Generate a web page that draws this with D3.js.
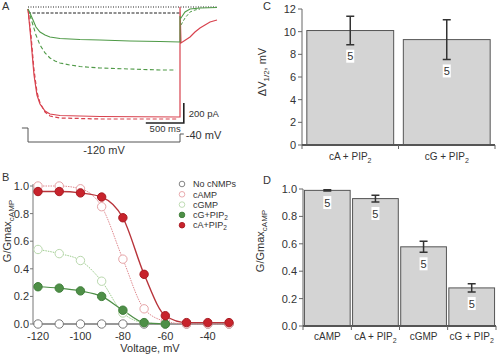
<!DOCTYPE html>
<html><head><meta charset="utf-8">
<script src="https://cdn.jsdelivr.net/npm/d3@7"></script>
<style>body{margin:0;background:#fff} svg{font-family:"Liberation Sans",Arial,sans-serif;display:block}</style>
</head><body><svg id="c" width="500" height="356"></svg>
<script>
// ---------- Panel A data (time ms, current pA) ----------
const redSolidT = [0,39,79,118,158,224,289,421,947,2000,2000,2000,2013,2132,2197,2263,2329,2395,2487];
const redSolidI = [-20,-330,-680,-880,-970,-1040,-1070,-1085,-1095,-1100,-1100,0,-360,-300,-250,-210,-180,-150,-130];
const redDashT = [0,39,79,118,158,224,289,421,947,1950];
const redDashI = [-20,-280,-630,-850,-960,-1050,-1090,-1110,-1120,-1120];
const greenSolidT = [0,26,66,105,158,224,289,421,684,947,1342,1737,2000,2000,2013,2066,2132,2263,2487];
const greenSolidI = [-20,-60,-130,-200,-250,-280,-300,-315,-325,-330,-340,-345,-350,-100,-110,-50,-20,-10,-5];
const greenDashT = [0,53,105,158,224,289,355,421,553,684,947,1342,1737,1947];
const greenDashI = [-20,-150,-280,-380,-460,-510,-540,-560,-580,-595,-610,-620,-630,-630];
const greenDashTailT = [2013,2066,2132,2197,2263];
const greenDashTailI = [-180,-110,-50,-30,-20];
const protoT = [-80,0,0,2000,2000,2050];
const protoV = [20,20,-120,-120,-40,-40];

// ---------- Panel B data ----------
const voltages = [-120,-110,-100,-90,-80,-70,-60,-50,-40,-30];
const noCNMPs = [0,0,0,0,0,0,0,0,0,0];
const cAMP = [1.0,1.0,0.98,0.85,0.47,0.11,0.02,0.0,0.0,0.0];
const cGMP = [0.54,0.51,0.46,0.31,0.08,0.01,0.0];
const cGPIP2 = [0.27,0.26,0.24,0.20,0.10,0.01,0.0];
const cAPIP2 = [0.96,0.96,0.95,0.92,0.77,0.36,0.06,0.01,0.01,0.01];
const xTicksB = [-120,-100,-80,-60,-40];
const yTicksB = [0,0.2,0.4,0.6,0.8,1.0];

// ---------- Panel C data ----------
const catsC = ["cA + PIP", "cG + PIP"];
const meanC = [10.1, 9.3];
const semC = [1.25, 1.75];
const nC = [5, 5];
const yTicksC = [0,2,4,6,8,10,12];

// ---------- Panel D data ----------
const catsD = ["cAMP", "cA + PIP", "cGMP", "cG + PIP"];
const subD = ["", "2", "", "2"];
const meanD = [0.99, 0.93, 0.578, 0.278];
const semD = [0.005, 0.025, 0.04, 0.03];
const nD = [5, 5, 5, 5];
const yTicksD = [0,0.2,0.4,0.6,0.8,1.0];

const svg = d3.select("#c");
svg.append("rect").attr("width",500).attr("height",356).attr("fill","#fff");
const TXT = "#333";

function panelLabel(t,x,y){ svg.append("text").attr("x",x).attr("y",y).attr("font-size",11).attr("fill",TXT).text(t); }

// ================= Panel A =================
panelLabel("A",2,10);
const xA = d3.scaleLinear().domain([0,2000]).range([28,180]);
const yA = d3.scaleLinear().domain([0,-1100]).range([7,117]);
const yV = d3.scaleLinear().domain([-40,-120]).range([134,142]);
const lineA = d3.line().x(d=>xA(d[0])).y(d=>yA(d[1])).curve(d3.curveLinear);
const zip = (a,b)=>a.map((v,i)=>[v,b[i]]);
const gA = svg.append("g");
gA.append("path").attr("d", lineA([[0,0],[2487,0]])).attr("stroke","#222").attr("stroke-width",1.2).attr("stroke-dasharray","1,1.5").attr("fill","none");
gA.append("path").attr("d", lineA([[0,-60],[2000,-60]])).attr("stroke","#222").attr("stroke-width",1.2).attr("stroke-dasharray","3,1.5").attr("fill","none");
const red="#d8424e", green="#4f9a47";
gA.append("path").attr("d", lineA(zip(greenDashT,greenDashI))).attr("stroke",green).attr("stroke-width",1.1).attr("stroke-dasharray","4,2.5").attr("fill","none");
gA.append("path").attr("d", lineA(zip(greenDashTailT,greenDashTailI))).attr("stroke",green).attr("stroke-width",1).attr("stroke-dasharray","3,2").attr("fill","none");
gA.append("path").attr("d", lineA(zip(redDashT,redDashI))).attr("stroke",red).attr("stroke-width",1.2).attr("stroke-dasharray","4,2.5").attr("fill","none");
gA.append("path").attr("d", lineA(zip(redSolidT,redSolidI))).attr("stroke",red).attr("stroke-width",1.2).attr("fill","none");
gA.append("path").attr("d", lineA(zip(greenSolidT,greenSolidI))).attr("stroke",green).attr("stroke-width",1.1).attr("fill","none");
gA.append("path").attr("d", lineA([[1550,-1160],[2050,-1160],[2050,-960]])).attr("stroke","#222").attr("stroke-width",1.6).attr("fill","none");
gA.append("text").attr("x",xA(2050)+5).attr("y",yA(-1060)+4).attr("font-size",9.5).attr("fill",TXT).text("200 pA");
gA.append("text").attr("x",xA(1600)).attr("y",yA(-1160)+9).attr("font-size",9.5).attr("fill",TXT).text("500 ms");
gA.append("path").attr("d", d3.line().x(d=>xA(d[0])).y(d=>yV(d[1]))(zip(protoT,protoV))).attr("stroke","#555").attr("stroke-width",1).attr("fill","none");
gA.append("text").attr("x",xA(2050)+2).attr("y",yV(-40)+5).attr("font-size",11).attr("fill",TXT).text("-40 mV");
gA.append("text").attr("x",xA(1000)).attr("y",154).attr("text-anchor","middle").attr("font-size",11).attr("fill",TXT).text("-120 mV");

// ================= Panel B =================
panelLabel("B",2,181);
const xB = d3.scaleLinear().domain([-120,-30]).range([38,229]);
const yB = d3.scaleLinear().domain([0,1]).range([324,186]);
const gB = svg.append("g");
gB.append("line").attr("x1",33).attr("x2",33).attr("y1",yB(0)).attr("y2",yB(1)-2).attr("stroke","#777");
gB.selectAll(".yt").data(yTicksB).join("line").attr("x1",30).attr("x2",33).attr("y1",d=>yB(d)).attr("y2",d=>yB(d)).attr("stroke","#777");
gB.selectAll(".ytl").data(yTicksB).join("text").attr("x",29).attr("y",d=>yB(d)+4).attr("text-anchor","end").attr("font-size",11).attr("fill",TXT).text(d=>d.toFixed(1));
gB.append("line").attr("x1",33).attr("x2",233).attr("y1",yB(0)).attr("y2",yB(0)).attr("stroke","#999").attr("stroke-width",2);
gB.selectAll(".xt").data(xTicksB).join("line").attr("x1",d=>xB(d)).attr("x2",d=>xB(d)).attr("y1",yB(0)).attr("y2",yB(0)+4).attr("stroke","#777");
gB.selectAll(".xtl").data(xTicksB).join("text").attr("x",d=>xB(d)).attr("y",yB(0)+16).attr("text-anchor","middle").attr("font-size",11).attr("fill",TXT).text(d=>d);
gB.append("text").attr("x",150).attr("y",352).attr("text-anchor","middle").attr("font-size",11).attr("fill",TXT).text("Voltage, mV");
const ylB = gB.append("text").attr("transform","translate(11,231) rotate(-90)").attr("text-anchor","middle").attr("font-size",11).attr("fill",TXT);
ylB.append("tspan").text("G/Gmax");
ylB.append("tspan").attr("font-size",8).attr("dy",3).text("cAMP");

const series = [
  {name:"No cNMPs", vals:noCNMPs, stroke:"#777", fill:"#fff", line:null},
  {name:"cAMP", vals:cAMP, stroke:"#e6a3a6", fill:"#fff", line:{c:"#e08a90",dash:"1.5,1",w:1}},
  {name:"cGMP", vals:cGMP, stroke:"#b9d8ad", fill:"#fff", line:{c:"#9ccc8c",dash:"1.5,1",w:1}},
  {name:"cG+PIP", sub:"2", vals:cGPIP2, stroke:"#3f7f3a", fill:"#4e8f47", line:{c:"#4e8f47",dash:null,w:1.2}},
  {name:"cA+PIP", sub:"2", vals:cAPIP2, stroke:"#a81b22", fill:"#c8232c", line:{c:"#b8343b",dash:null,w:1.4}}
];
const lineB = d3.line().x(d=>xB(d[0])).y(d=>yB(d[1])).curve(d3.curveMonotoneX);
series.forEach(s=>{
  if(!s.line) return;
  gB.append("path").attr("d", lineB(s.vals.map((v,i)=>[voltages[i],v]))).attr("fill","none").attr("stroke",s.line.c).attr("stroke-width",s.line.w).attr("stroke-dasharray",s.line.dash);
});
series.forEach(s=>{
  gB.selectAll(null).data(s.vals.map((v,i)=>[voltages[i],v])).join("circle")
    .attr("cx",d=>xB(d[0])).attr("cy",d=>yB(d[1])).attr("r",4.2)
    .attr("fill",s.fill).attr("stroke",s.stroke).attr("stroke-width",1);
});
series.forEach((s,i)=>{
  const y = 184 + i*10.3;
  gB.append("circle").attr("cx",182).attr("cy",y).attr("r",2.8).attr("fill",s.fill).attr("stroke",s.stroke).attr("stroke-width",0.9);
  const t = gB.append("text").attr("x",193).attr("y",y+3.2).attr("font-size",9).attr("fill",TXT);
  t.append("tspan").text(s.name);
  if(s.sub) t.append("tspan").attr("font-size",6.5).attr("dy",1.5).text(s.sub);
});

// ================= bar panel helper =================
function barPanel(opt){
  const g = svg.append("g");
  const x = d3.scaleBand().domain(opt.cats).range(opt.xr).paddingInner(opt.pi).paddingOuter(opt.po);
  const y = d3.scaleLinear().domain(opt.yd).range(opt.yr);
  g.selectAll(".b").data(opt.cats).join("rect")
    .attr("x",d=>x(d)).attr("width",x.bandwidth())
    .attr("y",(d,i)=>y(opt.mean[i])).attr("height",(d,i)=>y(0)-y(opt.mean[i]))
    .attr("fill","#d4d4d4").attr("stroke","#555").attr("stroke-width",1);
  g.append("line").attr("x1",opt.xr[0]).attr("x2",opt.xr[0]).attr("y1",y(0)).attr("y2",opt.yr[1]).attr("stroke","#666");
  g.selectAll(".yt").data(opt.ticks).join("line").attr("x1",opt.xr[0]-4).attr("x2",opt.xr[0]).attr("y1",d=>y(d)).attr("y2",d=>y(d)).attr("stroke","#666");
  g.selectAll(".ytl").data(opt.ticks).join("text").attr("x",opt.xr[0]-6).attr("y",d=>y(d)+4).attr("text-anchor","end").attr("font-size",11).attr("fill",TXT).text(opt.fmt);
  g.append("line").attr("x1",opt.xr[0]).attr("x2",opt.xr[1]).attr("y1",y(0)).attr("y2",y(0)).attr("stroke","#555").attr("stroke-width",2);
  const bounds = [opt.xr[0]].concat(opt.cats.slice(1).map(c=>x(c)-x.step()*x.paddingInner()/2), [opt.xr[1]]);
  g.selectAll(".xt").data(bounds).join("line").attr("x1",d=>d).attr("x2",d=>d).attr("y1",y(0)).attr("y2",y(0)+4).attr("stroke","#666");
  g.selectAll(".xtl").data(opt.cats).join("text").attr("x",d=>x(d)+x.bandwidth()/2).attr("y",y(0)+opt.xly).attr("text-anchor","middle").attr("font-size",10).attr("fill",TXT)
    .each(function(d,i){ const t=d3.select(this); t.append("tspan").text(d); if(opt.sub[i]) t.append("tspan").attr("font-size",7).attr("dy",2.5).text(opt.sub[i]); });
  opt.cats.forEach((c,i)=>{
    const cx = x(c)+x.bandwidth()/2, lo=y(opt.mean[i]-opt.sem[i]), hi=y(opt.mean[i]+opt.sem[i]);
    g.append("path").attr("d",`M${cx},${lo}V${hi}M${cx-4},${lo}H${cx+4}M${cx-4},${hi}H${cx+4}`).attr("stroke","#333").attr("stroke-width",1.5).attr("fill","none");
    const ly = lo + 11.5;
    g.append("rect").attr("x",cx-4).attr("y",ly-6.5).attr("width",8).attr("height",13).attr("fill","#fff");
    g.append("text").attr("x",cx).attr("y",ly+4).attr("text-anchor","middle").attr("font-size",11).attr("fill",TXT).text(opt.n[i]);
  });
  return g;
}

// ================= Panel C =================
panelLabel("C",263,10);
barPanel({cats:catsC, sub:["2","2"], mean:meanC, sem:semC, n:nC, xr:[302,495], pi:0.1, po:0.05, yd:[0,12], yr:[145,9], ticks:yTicksC, fmt:d=>d, xly:15});
const ylC = svg.append("text").attr("transform","translate(266,72) rotate(-90)").attr("text-anchor","middle").attr("font-size",11).attr("fill",TXT);
ylC.append("tspan").text("ΔV");
ylC.append("tspan").attr("font-size",8).attr("dy",3).text("1/2");
ylC.append("tspan").attr("dy",-3).text(", mV");

// ================= Panel D =================
panelLabel("D",263,184);
barPanel({cats:catsD, sub:subD, mean:meanD, sem:semD, n:nD, xr:[303,496], pi:0.05, po:0.03, yd:[0,1], yr:[326,189], ticks:yTicksD, fmt:d=>d.toFixed(1), xly:14});
const ylD = svg.append("text").attr("transform","translate(264,241) rotate(-90)").attr("text-anchor","middle").attr("font-size",11).attr("fill",TXT);
ylD.append("tspan").text("G/Gmax");
ylD.append("tspan").attr("font-size",8).attr("dy",3).text("cAMP");
</script></body></html>
